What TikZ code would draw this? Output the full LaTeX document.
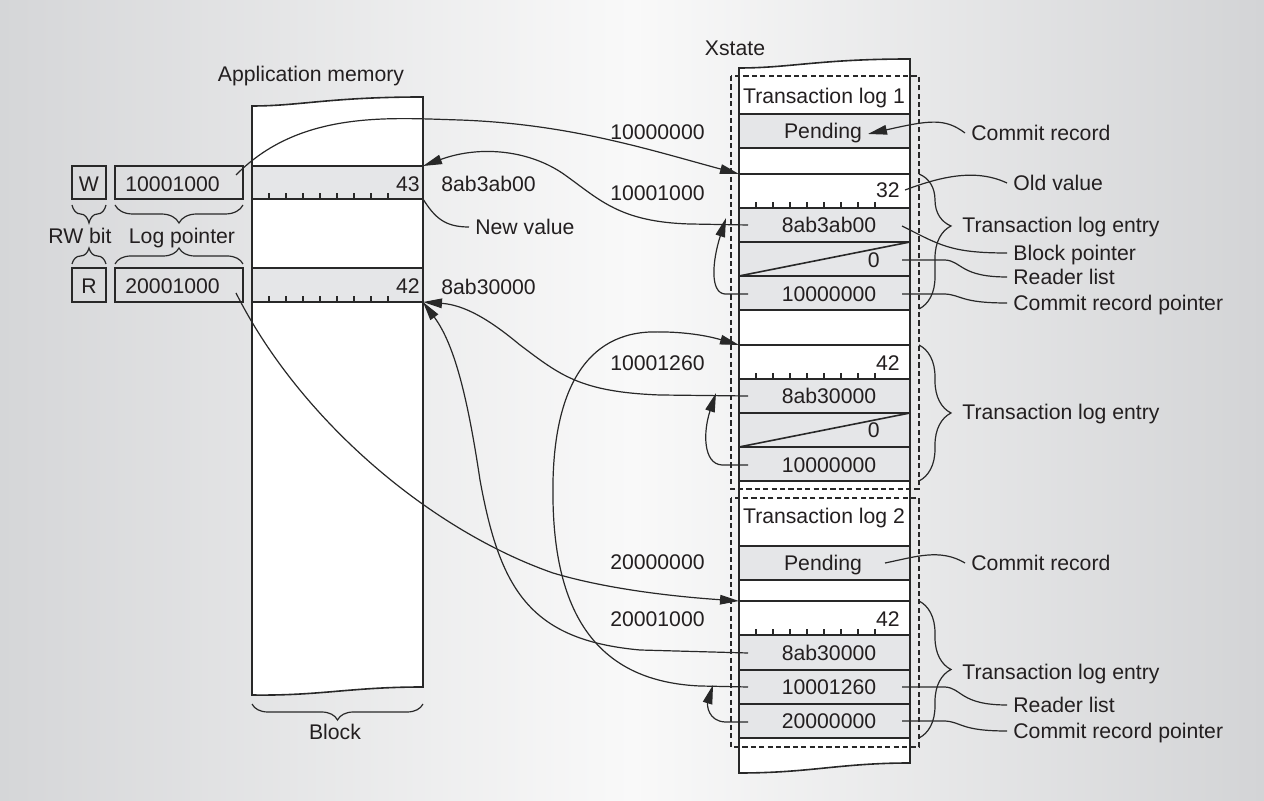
\documentclass[tikz,border=0pt]{standalone}
\usepackage{fontspec}
\setmainfont{Liberation Sans}
\usetikzlibrary{arrows.meta,decorations.pathreplacing}
\definecolor{bgL}{RGB}{213,214,216}
\definecolor{bgM}{RGB}{249,249,249}
\definecolor{bgR}{RGB}{211,212,214}
\definecolor{cellg}{RGB}{229,230,232}
\definecolor{ln}{RGB}{40,40,40}
\definecolor{txt}{RGB}{35,31,32}
\begin{document}
\begin{tikzpicture}[x=0.5pt,y=-0.5pt,
  lbl/.style={font=\fontsize{10.6}{12}\selectfont, text=txt, inner sep=0pt, text height=7.6pt, text depth=0pt},
  box/.style={draw=ln, line width=0.8pt},
  cellbox/.style={draw=ln, fill=cellg, line width=0.8pt},
  whitebox/.style={draw=ln, fill=white, line width=0.8pt},
  conn/.style={draw=ln, line width=0.6pt},
  arr/.style={conn, -{Triangle[length=9.5pt,width=4.8pt]}},
  tickmark/.style={draw=ln, line width=0.6pt},
  brc/.style={draw=ln, line width=0.6pt, decorate, decoration={brace, amplitude=#1}},
  dbox/.style={draw=ln, line width=0.6pt, dash pattern=on 2.6pt off 1.6pt},
]
\useasboundingbox (0,0) rectangle (1264,801);
\shade[left color=bgL, right color=bgR, middle color=bgM] (0,0) rectangle (1264,801);

% ---------------- Application memory block
\path[fill=white, draw=ln, line width=0.8pt] (252,106) .. controls (300,106) and (330,97) .. (423,97) -- (423,687) .. controls (350,687) and (320,696) .. (252,695) -- cycle;
\draw[cellbox] (252,166) rectangle (423,199);
\draw[cellbox] (252,268) rectangle (423,302);
\foreach \k in {1,...,8} {
  \draw[tickmark] (252+17*\k,199) -- ++(0,-6);
  \draw[tickmark] (252+17*\k,302) -- ++(0,-6);
}
\node[lbl] (appmem) at (311,74) {Application memory};
\node[lbl, anchor=east] (v43) at (420,184) {43};
\node[lbl, anchor=east] (v42) at (420,286) {42};
\node[lbl, anchor=west] (addrW) at (441,184) {8ab3ab00};
\node[lbl, anchor=west] (addrR) at (441,287) {8ab30000};
\node[lbl, anchor=west] (newv) at (475,227) {New value};
\draw[brc=8pt] (423,704) -- (252,704);
\node[lbl] (blocklbl) at (335,732) {Block};

% ---------------- W / R entries
\draw[box] (72,166) rectangle (106,199);
\draw[box] (115,166) rectangle (243,199);
\draw[box] (72,268) rectangle (106,302);
\draw[box] (115,268) rectangle (243,302);
\node[lbl] (wbit) at (89,184) {W};
\node[lbl, anchor=west] (wptr) at (125,184) {10001000};
\node[lbl] (rbit) at (89,286) {R};
\node[lbl, anchor=west] (rptr) at (125,286) {20001000};
\draw[brc=9pt] (106,205) -- (72,205);
\draw[brc=9pt] (243,205) -- (115,205);
\draw[brc=8pt] (72,264) -- (106,264);
\draw[brc=8pt] (115,264) -- (243,264);
\node[lbl] (rwlbl) at (80,236) {RW bit};
\node[lbl] (lplbl) at (182,236) {Log pointer};

% ---------------- Xstate column
\path[fill=white, draw=ln, line width=0.8pt] (739,68) .. controls (790,68) and (820,59) .. (910,59) -- (910,763) .. controls (840,763) and (810,773) .. (739,773) -- cycle;
\node[lbl] (xstate) at (735,48) {Xstate};
% log 1
\draw[cellbox] (739,114) rectangle (910,148);
\draw[whitebox] (739,174) rectangle (910,208);
\draw[cellbox] (739,208) rectangle (910,242);
\draw[cellbox] (739,242) rectangle (910,276);
\draw[cellbox] (739,276) rectangle (910,310);
\draw[box] (739,276) -- (910,242);
% entry 2
\draw[whitebox] (739,345) rectangle (910,379);
\draw[cellbox] (739,379) rectangle (910,413);
\draw[cellbox] (739,413) rectangle (910,447);
\draw[cellbox] (739,447) rectangle (910,481);
\draw[box] (739,447) -- (910,413);
% log 2
\draw[cellbox] (739,546) rectangle (910,580);
\draw[whitebox] (739,601) rectangle (910,635);
\draw[cellbox] (739,635) rectangle (910,670);
\draw[cellbox] (739,670) rectangle (910,704);
\draw[cellbox] (739,704) rectangle (910,738);
\foreach \k in {1,...,8} {
  \draw[tickmark] (739+17*\k,208) -- ++(0,-6);
  \draw[tickmark] (739+17*\k,379) -- ++(0,-6);
  \draw[tickmark] (739+17*\k,635) -- ++(0,-6);
}
\draw[dbox] (731,76) rectangle (919,489);
\draw[dbox] (731,498) rectangle (919,747);

\node[lbl] (tl1) at (824,96) {Transaction log 1};
\node[lbl] (pend1) at (823,131) {Pending};
\node[lbl, anchor=east] (old32) at (900,190) {32};
\node[lbl] (bp1) at (829,225) {8ab3ab00};
\node[lbl, anchor=east] (rl1) at (880,260) {0};
\node[lbl] (cp1) at (829,294) {10000000};
\node[lbl, anchor=east] (old42a) at (900,363) {42};
\node[lbl] (bp2) at (829,396) {8ab30000};
\node[lbl, anchor=east] (rl2) at (880,430) {0};
\node[lbl] (cp2) at (829,465) {10000000};
\node[lbl] (tl2) at (824,516) {Transaction log 2};
\node[lbl] (pend2) at (823,563) {Pending};
\node[lbl, anchor=east] (old42b) at (900,619) {42};
\node[lbl] (bp3) at (829,653) {8ab30000};
\node[lbl] (rl3) at (829,687) {10001260};
\node[lbl] (cp3) at (829,721) {20000000};

% addresses left of Xstate
\node[lbl, anchor=east] (ad1) at (705,132) {10000000};
\node[lbl, anchor=east] (ad2) at (705,193) {10001000};
\node[lbl, anchor=east] (ad3) at (705,363) {10001260};
\node[lbl, anchor=east] (ad4) at (705,562) {20000000};
\node[lbl, anchor=east] (ad5) at (705,619) {20001000};

% right braces and labels
\draw[draw=ln, line width=0.6pt, decorate, decoration={brace, amplitude=16pt, aspect=0.385}] (919,174) -- (919,309);
\draw[brc=16pt] (919,345) -- (919,481);
\draw[brc=16pt] (919,601) -- (919,738);
\node[lbl, anchor=west] (cr1) at (971,133) {Commit record};
\node[lbl, anchor=west] (oldv) at (1013,183) {Old value};
\node[lbl, anchor=west] (tle1) at (962,225) {Transaction log entry};
\node[lbl, anchor=west] (bpl) at (1013,253) {Block pointer};
\node[lbl, anchor=west] (rll1) at (1013,277) {Reader list};
\node[lbl, anchor=west] (crp1) at (1013,303) {Commit record pointer};
\node[lbl, anchor=west] (tle2) at (962,412) {Transaction log entry};
\node[lbl, anchor=west] (cr2) at (971,563) {Commit record};
\node[lbl, anchor=west] (tle3) at (962,672) {Transaction log entry};
\node[lbl, anchor=west] (rll2) at (1013,705) {Reader list};
\node[lbl, anchor=west] (crp2) at (1013,731) {Commit record pointer};

% ---------------- connector end points
\coordinate (wout) at (236,175);
\coordinate (rout) at (236,293);
\coordinate (wcorner) at (423,166);
\coordinate (rcorner) at (423,302);
\coordinate (nvcorner) at (423,199);
\coordinate (e1top) at (739,174);
\coordinate (e2top) at (739,345);
\coordinate (e3top) at (739,601);
\coordinate (bp1o) at (748,225);
\coordinate (bp2o) at (748,396);
\coordinate (bp3o) at (748,653);
\coordinate (rl3o) at (748,687);
\coordinate (cp1o) at (748,294);
\coordinate (cp2o) at (748,465);
\coordinate (cp3o) at (748,722);
\coordinate (bp1in) at (726,218);
\coordinate (bp2in) at (716,393);
\coordinate (rl3in) at (713,685);
\coordinate (pend1in) at (868,134);
\coordinate (pend2o) at (885,563);
\coordinate (old32o) at (905,190);
\coordinate (bp1r) at (902,226);
\coordinate (rl1r) at (902,260);
\coordinate (cp1r) at (902,294);
\coordinate (rl3r) at (902,687);
\coordinate (cp3r) at (902,721);

% ---------------- connectors
\draw[arr] (wout) .. controls (300,110) and (390,118) .. (460,120) .. controls (570,124) and (650,150) .. (e1top);
\draw[arr] (bp1o) -- (690,224) .. controls (620,222) and (600,200) .. (565,175) .. controls (530,150) and (480,145) .. (wcorner);
\draw[arr] (bp2o) -- (660,395) .. controls (580,392) and (560,375) .. (520,345) .. controls (490,320) and (465,305) .. (rcorner);
\draw[arr] (bp3o) -- (640,650) .. controls (530,640) and (500,590) .. (480,480) .. controls (468,400) and (455,345) .. (rcorner);
\draw[arr] (rl3o) -- (700,686) .. controls (610,682) and (555,630) .. (553,500) .. controls (551,400) and (580,335) .. (650,332) .. controls (690,331) and (715,338) .. (e2top);
\draw[arr] (rout) .. controls (300,420) and (430,530) .. (553,573) .. controls (610,590) and (680,597) .. (e3top);
\draw[arr] (cp1o) -- (725,294) .. controls (710,293) and (712,262) .. (bp1in);
\draw[arr] (cp2o) -- (722,465) .. controls (703,464) and (703,432) .. (bp2in);
\draw[arr] (cp3o) -- (725,722) .. controls (708,721) and (707,705) .. (rl3in);

\draw[conn] (nvcorner) .. controls (435,218) and (445,227) .. ([xshift=-3pt]newv.west);
\draw[arr] ([xshift=-3pt]cr1.west) .. controls (945,118) and (930,120) .. (pend1in);
\draw[conn] (pend2o) .. controls (915,557) and (940,548) .. ([xshift=-3pt]cr2.west);
\draw[conn] (old32o) .. controls (940,177) and (975,168) .. ([xshift=-3pt]oldv.west);
\draw[conn] (bp1r) .. controls (940,245) and (950,253) .. ([xshift=-3pt]bpl.west);
\draw[conn] (rl1r) -- (945,260) .. controls (962,261) and (960,277) .. ([xshift=-3pt]rll1.west);
\draw[conn] (cp1r) -- (945,294) .. controls (962,295) and (960,303) .. ([xshift=-3pt]crp1.west);
\draw[conn] (rl3r) -- (945,687) .. controls (962,688) and (960,705) .. ([xshift=-3pt]rll2.west);
\draw[conn] (cp3r) -- (945,721) .. controls (962,722) and (960,731) .. ([xshift=-3pt]crp2.west);
\end{tikzpicture}
\end{document}
